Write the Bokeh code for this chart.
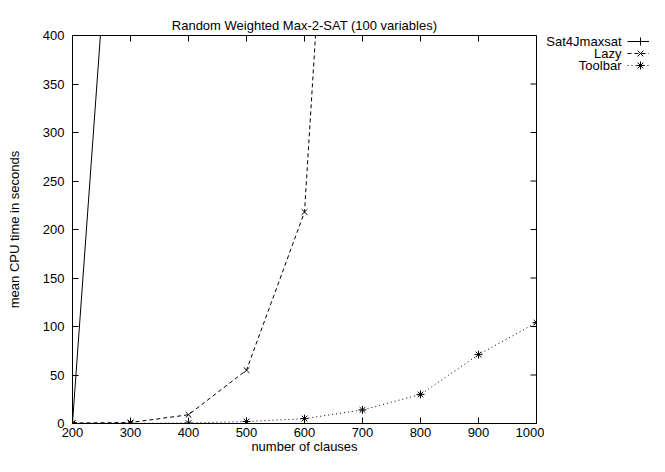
import math
from bokeh.plotting import figure
from bokeh.models import Range1d, FixedTicker
from bokeh.layouts import row
from bokeh.core.properties import value
from bokeh.embed import file_html
from bokeh.resources import INLINE

title = "Random Weighted Max-2-SAT (100 variables)"
x_label = "number of clauses"
y_label = "mean CPU time in seconds"
x_ticks = [200, 300, 400, 500, 600, 700, 800, 900, 1000]
y_ticks = [0, 50, 100, 150, 200, 250, 300, 350, 400]

series_names = ["Sat4Jmaxsat", "Lazy", "Toolbar"]
sat4j_clauses = [200, 300]
sat4j_time = [1.0, 830.0]
lazy_clauses = [200, 300, 400, 500, 600, 700]
lazy_time = [0.5, 1.0, 9.0, 55.0, 218.0, 1176.0]
toolbar_clauses = [200, 300, 400, 500, 600, 700, 800, 900, 1000]
toolbar_time = [0.1, 0.2, 0.5, 2.0, 5.0, 14.0, 30.0, 71.0, 104.0]

FONT = "Liberation Sans"
FS = "13px"

styles = [
    dict(dash="solid", marker="cross"),
    dict(dash="4 3", marker="x"),
    dict(dash="1 3", marker="asterisk"),
]

X0, X1 = x_ticks[0], x_ticks[-1]
Y0, Y1 = y_ticks[0], y_ticks[-1]

TOP, BOTTOM, H = 35, 33, 456

p = figure(width=544, height=H, x_range=Range1d(X0, X1), y_range=Range1d(Y0, Y1),
           output_backend="svg", toolbar_location=None, title=title,
           min_border_left=72, min_border_right=8, min_border_top=TOP, min_border_bottom=BOTTOM)

p.title.align = "center"
p.title.vertical_align = "top"
p.title.text_font = FONT
p.title.text_font_size = FS
p.title.text_font_style = "normal"
p.title.text_color = "black"
p.title.standoff = 2

p.xgrid.visible = False
p.ygrid.visible = False
p.outline_line_color = "black"
p.outline_line_alpha = 1.0

xa = p.xaxis[0]
ya = p.yaxis[0]
xa.ticker = FixedTicker(ticks=x_ticks)
ya.ticker = FixedTicker(ticks=y_ticks)

for ax in [xa, ya]:
    ax.major_tick_in = 6
    ax.major_tick_out = 0
    ax.minor_tick_line_color = None
    ax.axis_line_color = "black"
    ax.major_tick_line_color = "black"
    ax.major_label_text_font = FONT
    ax.major_label_text_font_size = FS
    ax.major_label_text_color = "black"
    ax.axis_label_text_font = FONT
    ax.axis_label_text_font_size = FS
    ax.axis_label_text_font_style = "normal"
    ax.axis_label_text_color = "black"

xa.axis_label = x_label
xa.major_label_standoff = 4
xa.axis_label_standoff = -1
ya.axis_label = y_label
ya.major_label_standoff = 8
ya.axis_label_standoff = 18

# mirrored inward ticks on the top and right borders (gnuplot style)
p.ray(x=x_ticks, y=[Y1] * len(x_ticks), length=6, length_units="screen",
      angle=-math.pi / 2, line_color="black", line_width=1)
p.ray(x=[X1] * len(y_ticks), y=y_ticks, length=6, length_units="screen",
      angle=math.pi, line_color="black", line_width=1)

data = [(sat4j_clauses, sat4j_time), (lazy_clauses, lazy_time), (toolbar_clauses, toolbar_time)]
for (xs, ys), st in zip(data, styles):
    p.line(xs, ys, line_color="black", line_width=1, line_dash=st["dash"])
    p.scatter(xs, ys, marker=st["marker"], size=8, line_color="black", line_width=1)

# gnuplot-style key outside on the right (its frame is aligned with the main plot's frame)
p2 = figure(width=105, height=H, x_range=Range1d(0, 105), y_range=p.y_range,
            output_backend="svg", toolbar_location=None, x_axis_type=None, y_axis_type=None,
            min_border_left=0, min_border_right=0, min_border_top=0, min_border_bottom=0)
p2.outline_line_color = None
p2.xgrid.visible = False
p2.ygrid.visible = False

frame_px = H - TOP - BOTTOM
px_per_unit = frame_px / (Y1 - Y0)
row_off, row_dy = 6, 12
text_x, s0, s1, mk = 77, 83, 105, 96
for i, (name, st) in enumerate(zip(series_names, styles)):
    yy = Y1 - (row_off + i * row_dy) / px_per_unit
    p2.text(x=[text_x], y=[yy], text=[name], text_align="right", text_baseline="middle",
            text_font=value(FONT), text_font_size=FS, text_color="black")
    p2.segment(x0=[s0], y0=[yy], x1=[s1], y1=[yy], line_color="black", line_width=1,
               line_dash=st["dash"])
    p2.scatter(x=[mk], y=[yy], marker=st["marker"], size=8, line_color="black", line_width=1)

layout = row(p, p2, spacing=0)
open("out.html", "w").write(file_html(layout, INLINE))
